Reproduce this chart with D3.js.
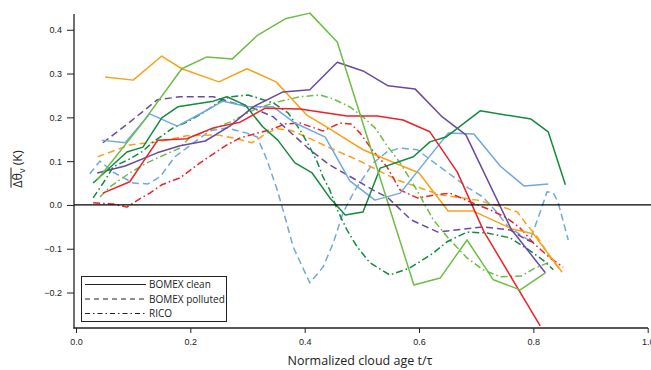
<!DOCTYPE html>
<html>
<head>
<meta charset="utf-8">
<script src="https://cdn.jsdelivr.net/npm/d3@7"></script>
<style>
  body { margin: 0; background: #fff; }
  svg { display: block; font-family: "Open Sans", "Liberation Sans", sans-serif; }
</style>
</head>
<body>
<div id="plot"></div>
<script>
// Values: [normalized cloud age t/tau, mean delta theta_v (K)]

// BOMEX clean (solid)
const cleanOrange = [[0.051,0.292],[0.100,0.285],[0.150,0.340],[0.185,0.311],[0.250,0.281],[0.299,0.311],[0.350,0.281],[0.404,0.205],[0.441,0.176],[0.502,0.126],[0.600,0.073],[0.651,-0.014],[0.695,-0.014],[0.763,-0.055],[0.800,-0.066],[0.850,-0.153]];
const cleanLightGreen = [[0.037,0.057],[0.112,0.180],[0.185,0.311],[0.229,0.338],[0.273,0.333],[0.318,0.388],[0.366,0.425],[0.409,0.438],[0.457,0.372],[0.591,-0.183],[0.637,-0.167],[0.684,-0.080],[0.730,-0.171],[0.777,-0.194],[0.821,-0.155]];
const cleanDarkGreen = [[0.030,0.050],[0.089,0.121],[0.117,0.132],[0.150,0.199],[0.178,0.224],[0.240,0.237],[0.264,0.247],[0.296,0.228],[0.327,0.178],[0.353,0.148],[0.383,0.096],[0.413,0.073],[0.444,0.016],[0.471,-0.023],[0.502,-0.016],[0.532,0.084],[0.590,0.110],[0.619,0.144],[0.647,0.155],[0.707,0.215],[0.796,0.196],[0.826,0.167],[0.856,0.046]];
const cleanPurple = [[0.037,0.073],[0.086,0.089],[0.142,0.119],[0.182,0.135],[0.226,0.146],[0.269,0.180],[0.310,0.224],[0.362,0.258],[0.409,0.263],[0.457,0.326],[0.502,0.306],[0.546,0.272],[0.593,0.265],[0.639,0.203],[0.682,0.160],[0.761,-0.055],[0.821,-0.155]];
const cleanLightBlue = [[0.045,0.148],[0.086,0.142],[0.129,0.208],[0.177,0.180],[0.220,0.210],[0.257,0.237],[0.301,0.224],[0.345,0.224],[0.383,0.187],[0.436,0.155],[0.479,0.055],[0.523,0.011],[0.567,0.027],[0.651,0.164],[0.696,0.162],[0.742,0.089],[0.784,0.043],[0.826,0.048]];
const cleanRed = [[0.047,0.027],[0.094,0.053],[0.143,0.148],[0.194,0.151],[0.240,0.176],[0.287,0.189],[0.331,0.221],[0.392,0.219],[0.474,0.203],[0.527,0.203],[0.572,0.194],[0.619,0.167],[0.667,0.075],[0.714,-0.062],[0.812,-0.276]];

// BOMEX polluted (dashed)
const pollutedPurple = [[0.047,0.142],[0.094,0.189],[0.142,0.240],[0.182,0.247],[0.240,0.247],[0.275,0.233],[0.310,0.221],[0.345,0.201],[0.374,0.167],[0.409,0.126],[0.444,0.091],[0.490,0.057],[0.520,0.034],[0.546,0.016],[0.586,-0.034],[0.633,-0.062],[0.712,-0.050],[0.759,-0.057],[0.789,-0.080],[0.803,-0.087]];
const pollutedOrange = [[0.038,0.110],[0.094,0.137],[0.143,0.144],[0.194,0.158],[0.247,0.160],[0.275,0.153],[0.308,0.142],[0.334,0.164],[0.352,0.174],[0.374,0.171],[0.404,0.155],[0.441,0.132],[0.492,0.103],[0.527,0.080],[0.562,0.057],[0.637,0.023],[0.702,0.011],[0.747,-0.005],[0.772,-0.016],[0.789,-0.046],[0.807,-0.073],[0.829,-0.119],[0.850,-0.153]];
const pollutedLightBlue = [[0.024,0.071],[0.042,0.100],[0.065,0.075],[0.100,0.050],[0.126,0.048],[0.147,0.064],[0.173,0.110],[0.212,0.148],[0.234,0.169],[0.264,0.176],[0.299,0.164],[0.317,0.155],[0.334,0.103],[0.352,0.034],[0.362,-0.011],[0.380,-0.096],[0.409,-0.178],[0.432,-0.142],[0.450,-0.087],[0.467,-0.018],[0.488,0.034],[0.520,0.096],[0.544,0.121],[0.567,0.130],[0.597,0.126],[0.625,0.098],[0.649,0.075],[0.686,0.039],[0.712,0.018],[0.737,-0.018],[0.756,-0.050],[0.794,-0.082],[0.812,-0.016],[0.824,0.030],[0.835,0.027],[0.843,0.007],[0.861,-0.080]];

// RICO (dash-dot)
const ricoRed = [[0.030,0.005],[0.065,0.002],[0.089,-0.005],[0.108,0.011],[0.129,0.027],[0.150,0.046],[0.182,0.062],[0.217,0.096],[0.243,0.119],[0.264,0.137],[0.287,0.153],[0.317,0.164],[0.339,0.171],[0.366,0.185],[0.392,0.187],[0.432,0.169],[0.462,0.187],[0.481,0.185],[0.497,0.164],[0.518,0.126],[0.544,0.087],[0.567,0.034],[0.597,0.016],[0.628,0.023],[0.654,0.027],[0.689,0.007],[0.724,-0.011],[0.754,-0.030],[0.777,-0.053],[0.800,-0.087],[0.829,-0.121],[0.852,-0.142]];
const ricoLightGreen = [[0.042,0.018],[0.059,0.041],[0.072,0.053],[0.094,0.073],[0.124,0.096],[0.147,0.110],[0.182,0.130],[0.199,0.155],[0.234,0.171],[0.269,0.189],[0.317,0.221],[0.352,0.235],[0.392,0.247],[0.427,0.251],[0.450,0.242],[0.479,0.224],[0.502,0.201],[0.523,0.176],[0.546,0.132],[0.567,0.096],[0.593,0.041],[0.625,-0.034],[0.654,-0.080],[0.684,-0.121],[0.712,-0.148],[0.742,-0.164],[0.780,-0.162],[0.800,-0.146],[0.829,-0.130]];
const ricoDarkGreen = [[0.030,0.016],[0.051,0.057],[0.065,0.087],[0.091,0.103],[0.115,0.121],[0.135,0.144],[0.170,0.176],[0.194,0.189],[0.222,0.210],[0.252,0.237],[0.269,0.247],[0.301,0.251],[0.345,0.233],[0.371,0.210],[0.392,0.171],[0.409,0.132],[0.422,0.098],[0.432,0.064],[0.444,0.034],[0.457,-0.011],[0.474,-0.057],[0.492,-0.096],[0.514,-0.132],[0.549,-0.160],[0.584,-0.144],[0.625,-0.110],[0.649,-0.084],[0.684,-0.062],[0.719,-0.064],[0.759,-0.075],[0.789,-0.100],[0.817,-0.126],[0.835,-0.148]];

const legendLabels = ["BOMEX clean", "BOMEX polluted", "RICO"];
const xTicks = [0, 0.2, 0.4, 0.6, 0.8, 1.0];
const yTicks = [-0.2, -0.1, 0, 0.1, 0.2, 0.3, 0.4];

const width = 651;
const height = 370;

const colors = {
  orange: "#f7a21b",
  lightGreen: "#6cbd45",
  darkGreen: "#148a3e",
  purple: "#6a4a9f",
  lightBlue: "#71a8dd",
  red: "#ec2227"
};
const dashes = ["none", "7,4", "7,3,1.6,3"];

const series = [
  {values: pollutedLightBlue, color: colors.lightBlue, style: 1},
  {values: pollutedOrange, color: colors.orange, style: 1},
  {values: pollutedPurple, color: colors.purple, style: 1},
  {values: ricoRed, color: colors.red, style: 2},
  {values: ricoLightGreen, color: colors.lightGreen, style: 2},
  {values: ricoDarkGreen, color: colors.darkGreen, style: 2},
  {values: cleanOrange, color: colors.orange, style: 0},
  {values: cleanLightBlue, color: colors.lightBlue, style: 0},
  {values: cleanPurple, color: colors.purple, style: 0},
  {values: cleanDarkGreen, color: colors.darkGreen, style: 0},
  {values: cleanRed, color: colors.red, style: 0},
  {values: cleanLightGreen, color: colors.lightGreen, style: 0}
];

const svg = d3.select("#plot")
  .append("svg")
  .attr("width", width)
  .attr("height", height);

const x = d3.scaleLinear().domain([0, 1]).range([76, 647.7]);
const y = d3.scaleLinear().domain([-0.281, 0.436]).range([328, 14]);

// data lines
const line = d3.line().x(d => x(d[0])).y(d => y(d[1]));

svg.append("g")
  .selectAll("path")
  .data(series)
  .join("path")
  .attr("d", d => line(d.values))
  .attr("fill", "none")
  .attr("stroke", d => d.color)
  .attr("stroke-width", 1.5)
  .attr("stroke-linejoin", "round")
  .attr("stroke-dasharray", d => dashes[d.style]);

// zero line
svg.append("line")
  .attr("x1", 74).attr("x2", width)
  .attr("y1", y(0)).attr("y2", y(0))
  .attr("stroke", "#000")
  .attr("stroke-width", 1.3);

// axes
const xAxis = svg.append("g")
  .attr("transform", `translate(0,328)`)
  .call(d3.axisBottom(x).tickValues(xTicks).tickFormat(d3.format(".1f")).tickSize(5).tickPadding(6));
const yAxis = svg.append("g")
  .attr("transform", `translate(74,0)`)
  .call(d3.axisLeft(y).tickValues(yTicks).tickFormat(d3.format(".1f")).tickSize(7).tickPadding(5));

[xAxis, yAxis].forEach(g => {
  g.select(".domain").remove();
  g.selectAll("line").attr("stroke", "#222").attr("stroke-width", 1);
  g.selectAll("text").attr("fill", "#222").style("font-size", "9px");
});

svg.append("line")
  .attr("x1", 74).attr("x2", 74)
  .attr("y1", 14).attr("y2", 328.5)
  .attr("stroke", "#222").attr("stroke-width", 1.3);
svg.append("line")
  .attr("x1", 73.4).attr("x2", 648)
  .attr("y1", 328).attr("y2", 328)
  .attr("stroke", "#222").attr("stroke-width", 1.3);

// axis titles
svg.append("text")
  .attr("x", 360)
  .attr("y", 365)
  .attr("text-anchor", "middle")
  .attr("fill", "#222")
  .style("font-size", "12.5px")
  .text("Normalized cloud age t/\u03c4");

const yTitle = svg.append("text")
  .attr("transform", "translate(22,169) rotate(-90)")
  .attr("text-anchor", "middle")
  .attr("fill", "#222")
  .style("font-size", "12.5px");
yTitle.append("tspan").text("\u0394\u03b8");
yTitle.append("tspan").attr("dy", 3).style("font-size", "9px").text("v");
yTitle.append("tspan").attr("dy", -3).text(" (K)");

// overline over the delta theta_v part
const tEl = yTitle.node();
const barLen = tEl.getSubStringLength(0, 3) + 1;
const startX = tEl.getStartPositionOfChar(0).x;
svg.append("line")
  .attr("transform", "translate(22,169) rotate(-90)")
  .attr("x1", startX).attr("x2", startX + barLen)
  .attr("y1", -11).attr("y2", -11)
  .attr("stroke", "#222").attr("stroke-width", 1);

// legend
const legend = svg.append("g");
legend.append("rect")
  .attr("x", 81.5).attr("y", 276.5)
  .attr("width", 145).attr("height", 45)
  .attr("fill", "#fff")
  .attr("stroke", "#222").attr("stroke-width", 1);

const legendRows = legend.selectAll("g.row")
  .data(legendLabels)
  .join("g")
  .attr("class", "row")
  .attr("transform", (d, i) => `translate(0,${284.5 + i * 14.5})`);

legendRows.append("line")
  .attr("x1", 85).attr("x2", 146)
  .attr("stroke", "#222").attr("stroke-width", 1)
  .attr("stroke-dasharray", (d, i) => ["none", "5,4", "5,3,1.5,3"][i]);

legendRows.append("text")
  .attr("x", 149)
  .attr("y", 3.6)
  .attr("fill", "#222")
  .style("font-size", "10px")
  .text(d => d);
</script>
</body>
</html>
